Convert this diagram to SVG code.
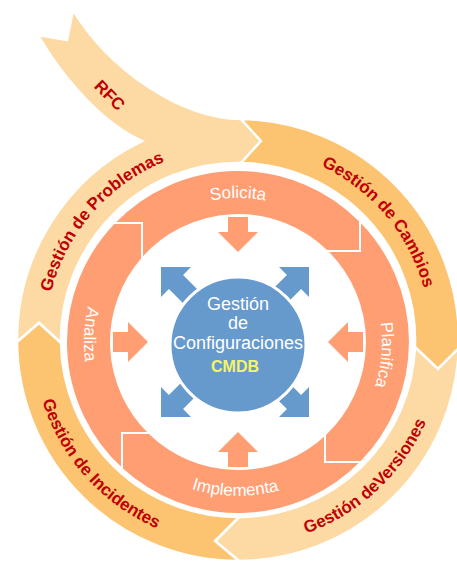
<svg xmlns="http://www.w3.org/2000/svg" xmlns:xlink="http://www.w3.org/1999/xlink" width="457" height="563" viewBox="0 0 457 563">
  <style>
    .light { fill: #FDDAA4; stroke: #FFFFFF; stroke-width: 2.5; stroke-linejoin: miter; }
    .deep { fill: #FCC470; stroke: #FFFFFF; stroke-width: 2.5; stroke-linejoin: miter; }
    .stage { fill: #FF9E73; stroke: #FFFFFF; stroke-width: 2; }
    .push { fill: #FF9E73; }
    .spread { fill: #6699CC; }
    .hub { fill: #6699CC; stroke: #FFFFFF; stroke-width: 3; }
    .outer-lbl { font-family: "Liberation Sans", Arial, sans-serif; font-size: 17px; font-weight: bold; fill: #C00000; }
    .inner-lbl { font-family: "Liberation Sans", Arial, sans-serif; font-size: 17px; fill: #FFFFFF; }
    .hub-lbl { font-family: "Liberation Sans", Arial, sans-serif; font-size: 18px; fill: #FFFFFF; text-anchor: middle; }
    .hub-key { font-family: "Liberation Sans", Arial, sans-serif; font-size: 16px; font-weight: bold; fill: #F4F46A; text-anchor: middle; }
  </style>
  <defs>
    <!-- baselines for the curved labels -->
    <path id="arc-problemas" d="M55.52,402.84 A193,193 0 0 1 274.83,150.55"/>
    <path id="arc-cambios" d="M204.49,149.93 A193,193 0 0 1 419.36,406.01"/>
    <path id="arc-versiones" d="M178.06,536.04 A205,205 0 0 0 437.75,293.89"/>
    <path id="arc-incidentes" d="M43.03,276.65 A205,205 0 0 0 280.62,540.52"/>
    <path id="arc-solicita" d="M113.29,270 A144,144 0 0 1 362.71,270"/>
    <path id="arc-planifica" d="M320.6,224.04 A144,144 0 0 1 298.86,472.51"/>
    <path id="arc-implementa" d="M103.3,416.66 A154,154 0 0 0 370,421.3"/>
    <path id="arc-analiza" d="M168.08,204.8 A154,154 0 0 0 154.13,471.16"/>
    <!-- block arrows, tip at the origin, pointing up -->
    <polygon id="push-arrow" class="push" points="0,0 20,20 10,20 10,35 -10,35 -10,20 -20,20"/>
    <polygon id="spread-arrow" class="spread" points="0,0 21.2,21.2 10,21.2 10,105 -10,105 -10,21.2 -21.2,21.2"/>
  </defs>

  <!-- outer cycle of processes -->
  <g id="gestion-problemas">
    <path class="light" d="M17,342 A221,221 0 0 1 142,141 C95,120 55,65 38,35 L67,40 L73,10 C110,70 180,118 241,119 L261,141 L241,163 A177,177 0 0 0 61,343 L39,323 Z"/>
    <text class="outer-lbl" text-anchor="middle"><textPath xlink:href="#arc-problemas" startOffset="50%">Gestión de Problemas</textPath></text>
    <text class="outer-lbl" text-anchor="middle" transform="translate(110,95) rotate(45)" dy="0.36em">RFC</text>
  </g>
  <g id="gestion-cambios">
    <path class="deep" d="M241,119 A221,221 0 0 1 458.9,348 L438,369 L414.9,347 A177,177 0 0 0 241,163 L261,141 Z"/>
    <text class="outer-lbl" text-anchor="middle"><textPath xlink:href="#arc-cambios" startOffset="50%">Gestión de Cambios</textPath></text>
  </g>
  <g id="gestion-versiones">
    <path class="light" d="M458.9,348 A221,221 0 0 1 239,561 L215,541 L239,517 A177,177 0 0 0 414.9,347 L438,369 Z"/>
    <text class="outer-lbl" text-anchor="middle"><textPath xlink:href="#arc-versiones" startOffset="50%">Gestión deVersiones</textPath></text>
  </g>
  <g id="gestion-incidentes">
    <path class="deep" d="M239,561 A221,221 0 0 1 17,342 L39,323 L61,343 A177,177 0 0 0 239,517 L215,541 Z"/>
    <text class="outer-lbl" text-anchor="middle"><textPath xlink:href="#arc-incidentes" startOffset="50%">Gestión de Incidentes</textPath></text>
  </g>

  <!-- inner cycle of stages -->
  <g id="solicita">
    <path class="stage" d="M113.8,223 A172,172 0 0 1 360,220.8 L360,251 L326.6,251 A127,127 0 0 0 142,258.9 L142,223 Z"/>
    <text class="inner-lbl" text-anchor="middle"><textPath xlink:href="#arc-solicita" startOffset="50%">Solicita</textPath></text>
  </g>
  <g id="planifica">
    <path class="stage" d="M360,220.8 A172,172 0 0 1 361.2,462 L325,462 L325,434.5 A127,127 0 0 0 326.6,251 L360,251 Z"/>
    <text class="inner-lbl" text-anchor="middle"><textPath xlink:href="#arc-planifica" startOffset="50%">Planifica</textPath></text>
  </g>
  <g id="implementa">
    <path class="stage" d="M361.2,462 A172,172 0 0 1 122,469 L122,433 L149.4,433 A127,127 0 0 0 325,434.5 L325,462 Z"/>
    <text class="inner-lbl" text-anchor="middle"><textPath xlink:href="#arc-implementa" startOffset="50%">Implementa</textPath></text>
  </g>
  <g id="analiza">
    <path class="stage" d="M122,469 A172,172 0 0 1 113.8,223 L142,223 L142,258.9 A127,127 0 0 0 149.4,433 L122,433 Z"/>
    <text class="inner-lbl" text-anchor="middle"><textPath xlink:href="#arc-analiza" startOffset="50%">Analiza</textPath></text>
  </g>

  <!-- arrows between the stages and the hub -->
  <g id="connectors">
    <use xlink:href="#push-arrow" transform="translate(238,252) rotate(180)"/>
    <use xlink:href="#push-arrow" transform="translate(328,342) rotate(-90)"/>
    <use xlink:href="#push-arrow" transform="translate(238,432)"/>
    <use xlink:href="#push-arrow" transform="translate(148,342) rotate(90)"/>
    <use xlink:href="#spread-arrow" transform="translate(161,267) rotate(-45)"/>
    <use xlink:href="#spread-arrow" transform="translate(309,267) rotate(45)"/>
    <use xlink:href="#spread-arrow" transform="translate(309,417) rotate(135)"/>
    <use xlink:href="#spread-arrow" transform="translate(161,417) rotate(-135)"/>
  </g>

  <!-- hub -->
  <g id="gestion-configuraciones">
    <circle class="hub" cx="238" cy="345" r="68"/>
    <text class="hub-lbl" x="238" y="310">Gestión</text>
    <text class="hub-lbl" x="238" y="329">de</text>
    <text class="hub-lbl" x="238" y="349">Configuraciones</text>
    <text class="hub-key" x="235" y="372">CMDB</text>
  </g>
</svg>
